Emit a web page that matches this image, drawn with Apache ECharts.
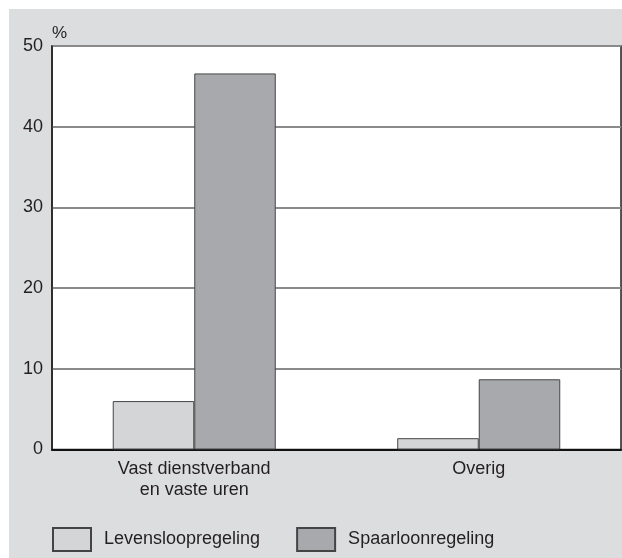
<!DOCTYPE html>
<html>
<head>
<meta charset="utf-8">
<script src="https://cdn.jsdelivr.net/npm/echarts@6/dist/echarts.min.js"></script>
<style>
html,body{margin:0;padding:0;background:#ffffff;}
#wrap{position:absolute;left:9px;top:9px;width:613px;height:549px;background:#dcdddf;}
#chart{width:613px;height:549px;}
</style>
</head>
<body>
<div id="wrap"><div id="chart"></div></div>
<script>
const categories = ['Vast dienstverband\nen vaste uren', 'Overig'];
const seriesNames = ['Levensloopregeling', 'Spaarloonregeling'];
const levensloop = [6.0, 1.4];
const spaarloon = [46.6, 8.7];
const yTicks = {min: 0, max: 50, interval: 10};

const FONT = '"Liberation Sans", Arial, Helvetica, sans-serif';
const TXT = '#231f20';

const chart = echarts.init(document.getElementById('chart'), null, {renderer: 'canvas'});
chart.setOption({
  backgroundColor: '#dcdddf',
  animation: false,
  textStyle: {fontFamily: FONT, color: TXT},
  grid: {
    left: 43, right: 1, top: 37, bottom: 108.5,
    show: true, backgroundColor: '#ffffff', borderColor: '#222222', borderWidth: 1.5,
    containLabel: false
  },
  legend: {
    left: 43, top: 518, padding: 0,
    itemWidth: 38, itemHeight: 23, itemGap: 36,
    icon: 'rect',
    textStyle: {fontFamily: FONT, fontSize: 18, color: TXT, padding: [12, 0, 0, 8]},
    data: seriesNames
  },
  xAxis: {
    type: 'category',
    data: categories,
    axisLine: {show: true, lineStyle: {color: '#111111', width: 2}},
    axisTick: {show: false},
    axisLabel: {fontFamily: FONT, fontSize: 18, color: TXT, lineHeight: 21, margin: 9}
  },
  yAxis: {
    type: 'value',
    min: yTicks.min, max: yTicks.max, interval: yTicks.interval,
    name: '%',
    nameLocation: 'end',
    nameGap: 4,
    nameTextStyle: {fontFamily: FONT, fontSize: 17, color: TXT, align: 'left', verticalAlign: 'bottom'},
    axisLine: {show: true, lineStyle: {color: '#222222', width: 1.5}},
    axisTick: {show: false},
    axisLabel: {fontFamily: FONT, fontSize: 18, color: TXT, margin: 9},
    splitLine: {show: true, lineStyle: {color: '#8a8a8a', width: 2}}
  },
  series: [
    {
      name: seriesNames[0], type: 'bar', data: levensloop,
      barGap: '0%', barCategoryGap: '42.7%',
      itemStyle: {color: '#d4d5d7', borderColor: '#444444', borderWidth: 1}
    },
    {
      name: seriesNames[1], type: 'bar', data: spaarloon,
      barGap: '0%', barCategoryGap: '42.7%',
      itemStyle: {color: '#a8a9ac', borderColor: '#444444', borderWidth: 1}
    }
  ]
});
</script>
</body>
</html>
